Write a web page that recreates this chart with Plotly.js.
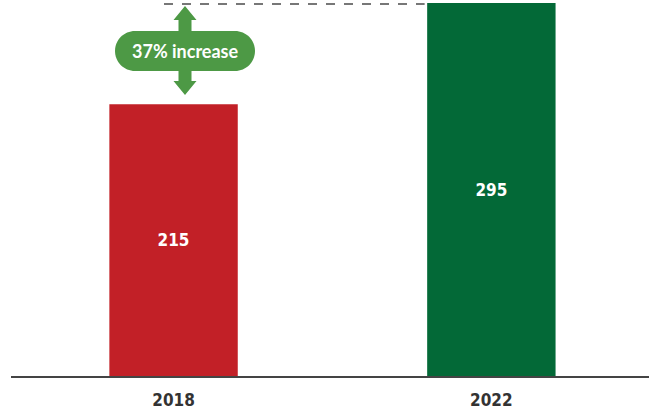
<!DOCTYPE html>
<html><head><meta charset="utf-8">
<script src="https://cdn.plot.ly/plotly-3.0.1.min.js"></script>
<style>html,body{margin:0;padding:0;background:#fff;}#chart{width:649px;height:411px;}</style>
</head><body><div id="chart"></div>
<script>
const categories = ["2018", "2022"];
const values = [215, 295];
const barColors = ["#C22027", "#036937"];
const increaseLabel = "37% increase";

const W = 649, H = 411, ML = 11, MR = 0, MT = 0, MB = 35;
const xRange = [-0.5115, 1.496];
const yRange = [0, 297.4];
const pw = W - ML - MR, ph = H - MT - MB;
function px2x(px){ return xRange[0] + (px - ML) / pw * (xRange[1] - xRange[0]); }
function px2y(py){ return yRange[0] + (H - MB - py) / ph * (yRange[1] - yRange[0]); }

function pillPath(x0, x1, y0, y1){
  const r = (y1 - y0) / 2, k = 0.5523 * r, cy = (y0 + y1) / 2;
  const a = x0 + r, b = x1 - r;
  const p = (x, y) => px2x(x).toFixed(5) + "," + px2y(y).toFixed(4);
  return "M" + p(a, y0) + " L" + p(b, y0) +
    " C" + p(b + k, y0) + " " + p(x1, cy - k) + " " + p(x1, cy) +
    " C" + p(x1, cy + k) + " " + p(b + k, y1) + " " + p(b, y1) +
    " L" + p(a, y1) +
    " C" + p(a - k, y1) + " " + p(x0, cy + k) + " " + p(x0, cy) +
    " C" + p(x0, cy - k) + " " + p(a - k, y0) + " " + p(a, y0) + " Z";
}
function arrowPath(cx, top, bottom, shaftHalf, headHalf, headH){
  const p = (x, y) => px2x(x).toFixed(5) + "," + px2y(y).toFixed(4);
  return "M" + p(cx, top) + " L" + p(cx + headHalf, top + headH) + " L" + p(cx + shaftHalf, top + headH) +
    " L" + p(cx + shaftHalf, bottom - headH) + " L" + p(cx + headHalf, bottom - headH) + " L" + p(cx, bottom) +
    " L" + p(cx - headHalf, bottom - headH) + " L" + p(cx - shaftHalf, bottom - headH) +
    " L" + p(cx - shaftHalf, top + headH) + " L" + p(cx - headHalf, top + headH) + " Z";
}

const narrow = "'Liberation Sans Narrow', 'Arial Narrow', 'DejaVu Sans Condensed', sans-serif";
const annGreen = "#4D9945";

const trace = {
  type: "bar",
  x: categories,
  y: values,
  width: 0.404,
  marker: {color: barColors, line: {width: 0}},
  text: values.map(String),
  textposition: "inside",
  insidetextanchor: "middle",
  textfont: {family: narrow, size: 17, color: "#ffffff", weight: "bold"},
  hoverinfo: "skip",
  cliponaxis: false
};

const layout = {
  width: W, height: H,
  margin: {l: ML, r: MR, t: MT, b: MB, pad: 0},
  paper_bgcolor: "#ffffff", plot_bgcolor: "#ffffff",
  showlegend: false,
  xaxis: {
    type: "category", range: xRange, fixedrange: true,
    showline: true, linecolor: "#444444", linewidth: 2,
    ticks: "", showgrid: false, zeroline: false, ticklabelstandoff: 8,
    tickfont: {family: narrow, size: 17, color: "#333333", weight: "bold"}
  },
  yaxis: {range: yRange, visible: false, showgrid: false, zeroline: false, fixedrange: true},
  shapes: [
    {type: "line", xref: "x", yref: "y", x0: px2x(164), x1: 0.79, y0: values[1] - 0.8, y1: values[1] - 0.8,
     line: {color: "#777777", width: 2, dash: "dash"}, layer: "below"},
    {type: "path", xref: "x", yref: "y", path: arrowPath(185, 6, 95, 6.5, 11.5, 14),
     fillcolor: annGreen, line: {width: 0}},
    {type: "path", xref: "x", yref: "y", path: pillPath(115, 255, 31, 71),
     fillcolor: annGreen, line: {width: 0}}
  ],
  annotations: [
    {xref: "x", yref: "y", x: px2x(185), y: px2y(51), text: increaseLabel, showarrow: false,
     font: {family: "Lato, 'Open Sans', sans-serif", size: 18, color: "#ffffff", weight: "bold"},
     xanchor: "center", yanchor: "middle"}
  ]
};

Plotly.newPlot("chart", [trace], layout, {displayModeBar: false, staticPlot: true});
</script></body></html>
